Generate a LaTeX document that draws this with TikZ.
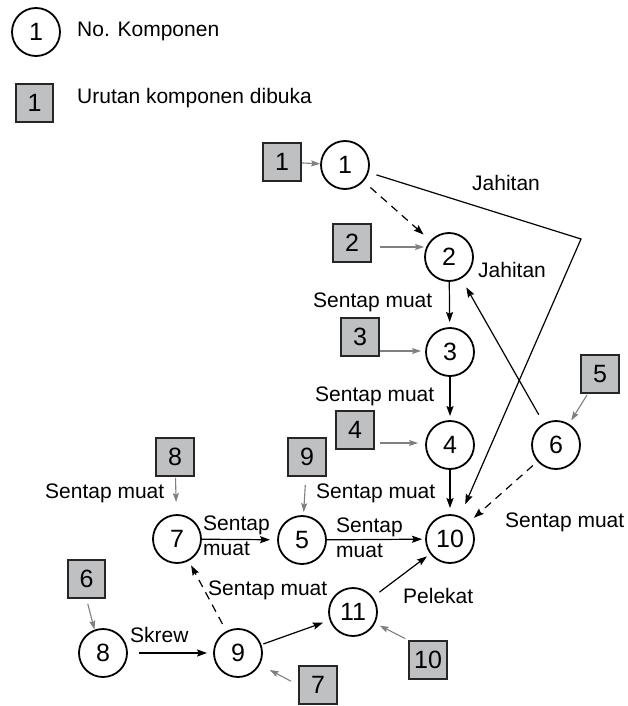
\documentclass[tikz,border=0pt]{standalone}
\usepackage{fontspec}
\setmainfont{Liberation Sans}
\usetikzlibrary{arrows.meta}
\definecolor{boxfill}{RGB}{190,192,194}
\definecolor{linkgray}{RGB}{128,128,128}
\begin{document}
\begin{tikzpicture}[x=1pt,y=-1pt,
  every node/.style={font=\fontsize{21}{25}\selectfont},
  comp/.style={circle,draw,line width=1.8pt,minimum size=48pt,inner sep=0pt,font=\fontsize{25}{30}\selectfont},
  order/.style={rectangle,draw=black!85,fill=boxfill,line width=2.4pt,minimum size=37.5pt,inner sep=0pt,font=\fontsize{25}{30}\selectfont},
  lbl/.style={anchor=base west,inner sep=0pt},
  link/.style={line width=1.2pt,-{Stealth[length=10pt,width=7pt,inset=1.5pt]}},
  dlink/.style={link,dash pattern=on 8pt off 6pt},
  glink/.style={line width=1.1pt,draw=linkgray,-{Stealth[length=9pt,width=6pt,inset=1.5pt]},linkgray}
]
\useasboundingbox (0,0) rectangle (628,706);

% legend
\node[comp] (lc) at (36,32) {1};
\node[lbl] (lct) at (77,37) {No. Komponen};
\node[order] (lb) at (34.5,103) {1};
\node[lbl] (lbt) at (77,104) {Urutan komponen dibuka};

% components
\node[comp] (c1) at (345,165) {1};
\node[comp] (c2) at (449,257) {2};
\node[comp] (c3) at (450,352) {3};
\node[comp] (c4) at (450,445) {4};
\node[comp] (c5) at (302,540) {5};
\node[comp] (c6) at (556,445) {6};
\node[comp] (c7) at (177,539) {7};
\node[comp] (c8) at (103,653) {8};
\node[comp] (c9) at (238,653) {9};
\node[comp] (c10) at (450,539) {10};
\node[comp] (c11) at (353,612) {11};

% disassembly order
\node[order] (b1) at (282,162) {1};
\node[order] (b2) at (352,243) {2};
\node[order] (b3) at (360,337) {3};
\node[order] (b4) at (355,430) {4};
\node[order] (b5) at (600,374) {5};
\node[order] (b6) at (86.5,579) {6};
\node[order] (b7) at (318,685) {7};
\node[order] (b8) at (175,457) {8};
\node[order] (b9) at (307,457) {9};
\node[order] (b10) at (428,660) {10};

\coordinate (jc) at (581,239);

% order pointers
\draw[glink] (b1) -- (c1);
\draw[glink,shorten <=8pt] ([yshift=-4pt]b2.east) -- ([yshift=-4pt]b2.east -| c2.west);
\draw[glink,shorten >=4pt] ([yshift=-14pt]b3.east) -- ([yshift=-14pt]b3.east -| c3.west);
\draw[glink,shorten <=5pt,shorten >=7pt] ([yshift=-13pt]b4.east) -- ([yshift=-13pt]b4.east -| c4.west);
\draw[glink,shorten <=1pt,shorten >=4pt] (b5) -- (c6);
\draw[glink,shorten <=5pt] (b6.south) -- (c8.110);
\draw[glink,shorten <=8pt,shorten >=11pt] (b7.west) -- (c9);
\draw[glink,shorten <=1pt,shorten >=12pt] (b8) -- (c7);
\draw[glink,shorten <=8pt,shorten >=3pt] (b9) -- (c5);
\draw[glink,shorten <=3pt,shorten >=5pt] (b10.north west) -- (c11);

% joints
\draw[dlink,shorten <=9pt,shorten >=9pt] (c1) -- (c2);
\draw[link,shorten <=8pt,shorten >=13pt] (c1) -- (jc) -- (c10);
\draw[link,shorten >=5pt] (c2) -- (c3);
\draw[link,shorten >=4pt] (c3) -- (c4);
\draw[link,shorten >=6pt] (c4) -- (c10);
\draw[link,shorten <=10pt,shorten >=10pt] (c6) -- (c2);
\draw[dlink,shorten <=6pt,shorten >=7pt] (c6) -- (c10);
\draw[link,shorten >=3pt] (c5) -- (c10);
\draw[link,shorten >=7pt] (c7) -- (c5);
\draw[dlink,shorten <=8pt,shorten >=5pt] (c9) -- (c7);
\draw[link,shorten <=11pt,shorten >=6pt] (c8) -- (c9);
\draw[link,shorten <=2pt,shorten >=7pt] (c9) -- (c11);
\draw[link,shorten <=8pt,shorten >=4pt] (c11) -- (c10);

% joint labels
\node[lbl] (j1) at (472,190) {Jahitan};
\node[lbl] (j2) at (478,277) {Jahitan};
\node[lbl] (s23) at (313,307) {Sentap muat};
\node[lbl] (s34) at (315,401) {Sentap muat};
\node[lbl] (s9) at (316,498) {Sentap muat};
\node[lbl] (s8) at (45,498) {Sentap muat};
\node[lbl] (s75a) at (203,530) {Sentap};
\node[lbl] (s75b) at (203,555) {muat};
\node[lbl] (s510a) at (336,532) {Sentap};
\node[lbl] (s510b) at (336,557) {muat};
\node[lbl] (s610) at (505,527) {Sentap muat};
\node[lbl] (sk) at (130,642) {Skrew};
\node[lbl] (s97) at (208,595) {Sentap muat};
\node[lbl] (pl) at (403,603) {Pelekat};
\end{tikzpicture}
\end{document}
